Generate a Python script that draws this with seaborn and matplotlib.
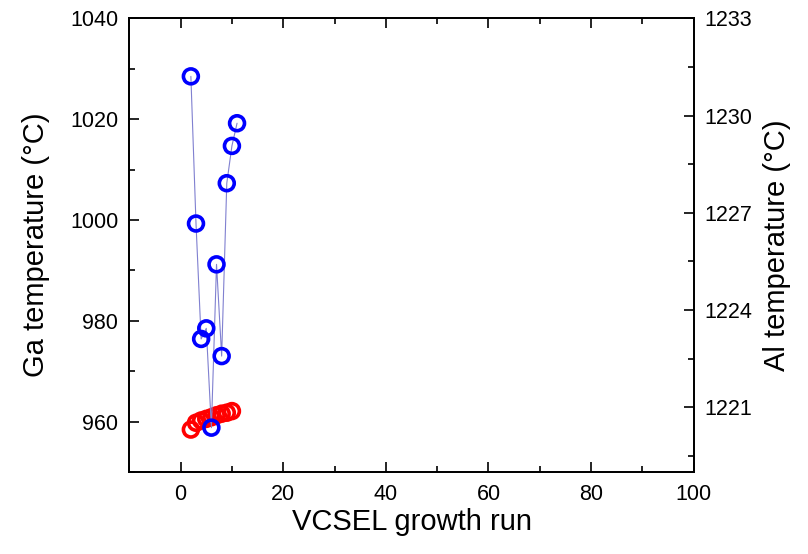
import matplotlib
matplotlib.use("Agg")
import matplotlib.pyplot as plt
import seaborn as sns
import pandas as pd
from matplotlib.ticker import MultipleLocator, FixedLocator

# --- data ---
ga_runs = [2, 3, 4, 5, 6, 7, 8, 9, 10, 11]
ga_temp = [1028.5, 999.3, 976.4, 978.5, 958.8, 991.2, 973.0, 1007.3, 1014.7, 1019.2]
al_runs = [2, 3, 4, 5, 6, 7, 8, 9, 10]
al_temp = [1220.31, 1220.52, 1220.59, 1220.64, 1220.69, 1220.75, 1220.80, 1220.83, 1220.88]
x_ticks = [0, 20, 40, 60, 80, 100]
ga_ticks = [960, 980, 1000, 1020, 1040]
al_ticks = [1221, 1224, 1227, 1230, 1233]

ga_df = pd.DataFrame({"run": ga_runs, "temp": ga_temp})
al_df = pd.DataFrame({"run": al_runs, "temp": al_temp})

sns.set_theme(style="ticks")
plt.rcParams["font.family"] = ["Liberation Sans", "DejaVu Sans"]

fig = plt.figure(figsize=(8.08, 5.54), dpi=100)
ax = fig.add_axes([129.3 / 808, 1 - 472 / 554, (693.7 - 129.3) / 808, (472 - 18.4) / 554])
ax2 = ax.twinx()

# Al (right axis, red)
sns.scatterplot(data=al_df, x="run", y="temp", ax=ax2, s=115, marker="o",
                facecolor="none", edgecolor="#ff0000", linewidth=2.6, legend=False,
                zorder=3)

# Ga (left axis, blue)
sns.lineplot(data=ga_df, x="run", y="temp", ax=ax, sort=False, color="#8080d0",
             linewidth=0.8, legend=False, zorder=2)
sns.scatterplot(data=ga_df, x="run", y="temp", ax=ax, s=115, marker="o",
                facecolor="none", edgecolor="#0000ff", linewidth=2.6, legend=False,
                zorder=3)

ax.set_zorder(ax2.get_zorder() + 1)
ax.patch.set_visible(False)

ax.set_xlim(-10, 100)
ax.set_ylim(950, 1040)
ax2.set_ylim(1219, 1233)

ax.xaxis.set_major_locator(FixedLocator(x_ticks))
ax.xaxis.set_minor_locator(MultipleLocator(10))
ax.yaxis.set_major_locator(FixedLocator(ga_ticks))
ax.yaxis.set_minor_locator(MultipleLocator(10))
ax2.yaxis.set_major_locator(FixedLocator(al_ticks))
ax2.yaxis.set_minor_locator(FixedLocator([1219.5, 1222.5, 1225.5, 1228.5, 1231.5]))

ax.tick_params(axis="x", which="both", direction="in", top=True, labelsize=15.5,
               pad=9, colors="black")
ax.tick_params(axis="y", which="both", direction="in", right=False, labelsize=15.5,
               pad=8, colors="black")
ax2.tick_params(axis="y", which="both", direction="in", labelsize=15.5, pad=8,
                colors="black")
for a in (ax, ax2):
    a.tick_params(which="major", length=7, width=1.2)
    a.tick_params(which="minor", length=4, width=1.2)
    for sp in a.spines.values():
        sp.set_linewidth(1.3)
        sp.set_color("black")
        sp.set_visible(True)

ax.set_xlabel("VCSEL growth run", fontsize=21, color="black")
ax.set_ylabel("Ga temperature (°C)", fontsize=21, color="black")
ax2.set_ylabel("Al temperature (°C)", fontsize=21, color="black")
ax.xaxis.set_label_coords(0.5, -0.08)
ax.yaxis.set_label_coords(-0.14, 0.5)
ax2.yaxis.set_label_coords(1.122, 0.5)

fig.savefig("out.png", dpi=100)
